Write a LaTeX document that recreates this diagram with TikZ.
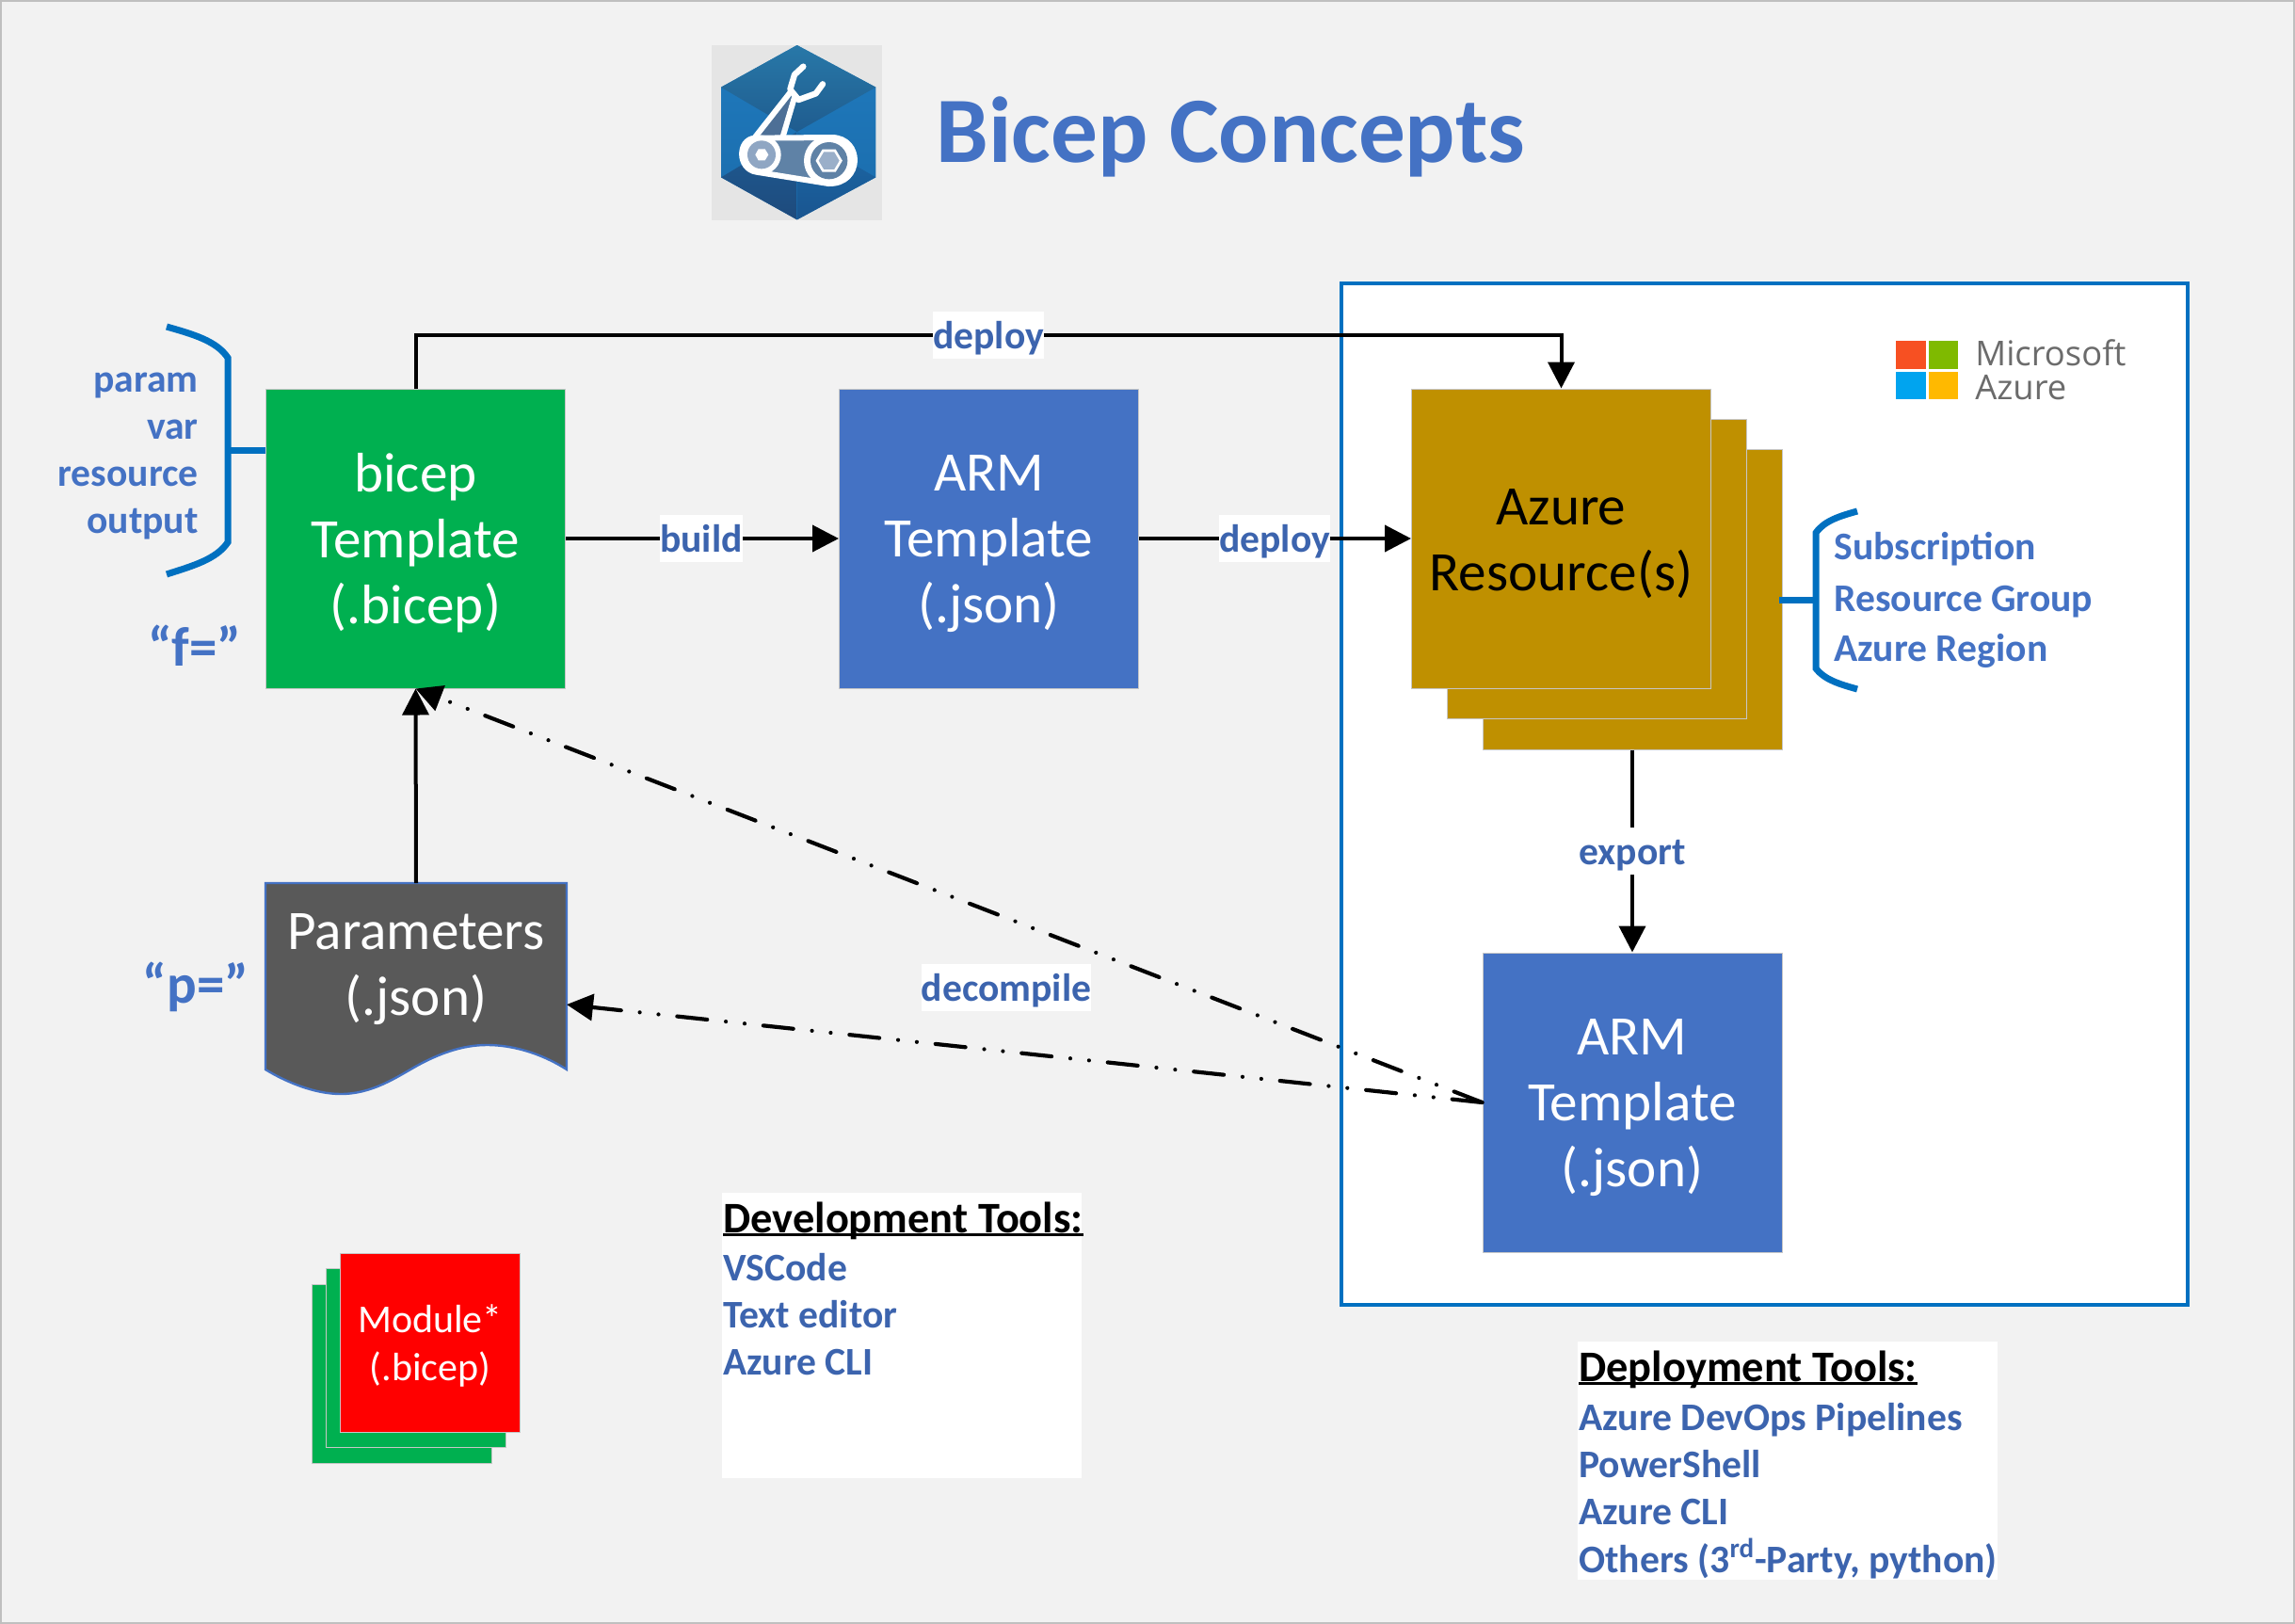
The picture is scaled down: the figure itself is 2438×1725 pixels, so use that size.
\documentclass[tikz,border=0pt]{standalone}
\usepackage{fontspec}
\setmainfont{Carlito}
\newfontfamily\msfont{Open Sans}
\usetikzlibrary{arrows.meta,calc}
\definecolor{pagebg}{HTML}{F2F2F2}
\definecolor{txtblue}{HTML}{4472C4}
\definecolor{labblue}{HTML}{3C64AE}
\definecolor{brace}{HTML}{0070C0}
\definecolor{bgreen}{HTML}{00B050}
\definecolor{agold}{HTML}{BF9000}
\definecolor{docgray}{HTML}{595959}
\definecolor{hexa}{HTML}{1F7ABD}
\definecolor{hexb}{HTML}{1B6CAC}
\definecolor{topa}{HTML}{2878A8}
\definecolor{topb}{HTML}{1F5C8F}
\definecolor{lla}{HTML}{1E5D95}
\definecolor{llb}{HTML}{1E4A7C}
\definecolor{lra}{HTML}{1B6AA8}
\definecolor{lrb}{HTML}{1A5590}
\definecolor{iconmid}{HTML}{5F82A6}
\definecolor{iconlt}{HTML}{8FA6C3}
\definecolor{iconarm}{HTML}{4D6F96}
\newcommand{\liftline}{\rule{0pt}{25pt}}
\newcommand{\toolul}[1]{\setbox0\hbox{#1}\rlap{\rule[-2.1pt]{\wd0}{1.4pt}}\box0}
\tikzset{
  px/.style={x=.5pt,y=-.5pt},
  tile/.style={draw=black!22,line width=.5pt,inner sep=0pt,align=center,text=white,font=\fontsize{29.6}{35}\selectfont},
  modtile/.style={draw=black!22,line width=.5pt,inner sep=0pt,minimum width=95.5pt,minimum height=95pt},
  conn/.style={draw=black,line width=2pt,-{Triangle[length=14pt,width=14pt]}},
  dashdot/.style={draw=black,line width=2.1pt,line cap=round,dash pattern=on 16pt off 10pt on 0pt off 10pt on 0pt off 10pt,-{Triangle[length=14pt,width=14pt]}},
  bracket/.style={draw=brace,line width=3.5pt},
  lab/.style={fill=white,inner xsep=0pt,inner ysep=0pt,text height=19.5pt,text depth=5.5pt,text=labblue,font=\fontsize{20.8}{24}\selectfont\bfseries},
  list/.style={text=txtblue,inner sep=0pt,font=\fontsize{20.8}{24}\selectfont\bfseries},
  toollist/.style={text=labblue,inner sep=0pt,anchor=base west,font=\fontsize{20.8}{24}\selectfont\bfseries},
  toolhead/.style={text=black,inner sep=0pt,anchor=base west,font=\fontsize{23.2}{26}\selectfont\bfseries},
}
\begin{document}
\begin{tikzpicture}[px]
\useasboundingbox (0,0) rectangle (2438,1725);
\fill[pagebg] (0,0) rectangle (2438,1725);
\draw[black!25,line width=1pt] (1,1) rectangle (2437,1724);
% logo
\fill[black!10] (756,48) rectangle (937,234);
\begin{scope}[shift={(720,20)},x=.16667pt,y=-.16667pt]
  \shade[top color=hexa,bottom color=hexb] (380,84)--(631,218)--(631,505)--(380,640)--(138,505)--(138,218)--cycle;
  \shade[top color=topa,bottom color=topb] (380,84)--(631,218)--(380,360)--(138,218)--cycle;
  \shade[top color=lla,bottom color=llb] (138,505)--(380,360)--(380,640)--cycle;
  \shade[top color=lra,bottom color=lrb] (631,505)--(380,360)--(380,640)--cycle;
  \fill[iconarm] (250,385)--(362,245)--(330,385)--cycle;
  \draw[white,line width=3pt,line cap=round] (240,385)--(358,235) (335,375)--(372,250);
  \draw[white,line width=3.2pt,line cap=round,line join=round] (400,152)--(372,178)--(358,225)--(385,258)--(440,238)--(462,208);
  \fill[iconmid] (290,378)--(500,378)--(500,525)--(270,490)--cycle;
  \draw[white,line width=3pt,line join=round] (245,380)--(490,378) .. controls (590,378) and (590,528) .. (480,525) -- (250,488) .. controls (190,478) and (190,385) .. (245,380) -- cycle;
  \fill[white] (267,433) circle[radius=62];
  \fill[iconlt] (267,433) circle[radius=45];
  \fill[white] (482,452) circle[radius=80];
  \fill[iconmid] (482,452) circle[radius=59];
  \fill[white] (247,433)--(257,415)--(278,415)--(289,433)--(278,451)--(257,451)--cycle;
  \filldraw[fill=iconlt!90!white,draw=white,line width=1.3pt] (444,452)--(463,420)--(501,420)--(520,452)--(501,484)--(463,484)--cycle;
\end{scope}
\node[anchor=base west,inner sep=0pt,text=txtblue,font=\fontsize{49.7}{56}\selectfont\bfseries] (title) at (994,172) {Bicep Concepts};
% azure frame
\filldraw[fill=white,draw=brace,line width=2pt] (1425,301) rectangle (2324,1386);
% azure logo
\fill[fill={rgb,255:red,247;green,80;blue,34}] (2014,362) rectangle (2046,392);
\fill[fill={rgb,255:red,127;green,186;blue,0}] (2049,362) rectangle (2080,392);
\fill[fill={rgb,255:red,0;green,164;blue,239}] (2014,395) rectangle (2046,424);
\fill[fill={rgb,255:red,255;green,185;blue,0}] (2049,395) rectangle (2080,424);
\node[anchor=west,inner sep=0pt,text=black!58,font=\msfont\fontsize{18.2}{20}\selectfont] (ms) at (2098,375) {Microsoft};
\node[anchor=west,inner sep=0pt,text=black!58,font=\msfont\fontsize{18.2}{20}\selectfont] (az) at (2098,412) {Azure};
% tiles
\node[tile,fill=bgreen,minimum width=159pt,minimum height=159pt] (bicep) at (441.5,572) {\liftline bicep\\Template\\(.bicep)};
\node[tile,fill=txtblue,minimum width=159pt,minimum height=159pt] (arm) at (1050.5,572) {\liftline ARM\\Template\\(.json)};
\node[tile,fill=agold,minimum width=159pt,minimum height=159.5pt] (res3) at (1734,636.5) {};
\node[tile,fill=agold,minimum width=159pt,minimum height=159pt] (res2) at (1696,604) {};
\node[tile,fill=agold,minimum width=159pt,minimum height=159pt,text=black] (res1) at (1658.5,572) {\liftline Azure\\Resource(s)};
\node[tile,fill=txtblue,minimum width=159pt,minimum height=159pt] (arm2) at (1734,1171) {\liftline ARM\\Template\\(.json)};
% parameters document
\filldraw[fill=docgray,draw=txtblue,line width=1.2pt] (282,938)--(602,938)--(602,1136) .. controls (580,1122) and (550,1110) .. (517,1110) .. controls (490,1110) and (465,1120) .. (443,1132) .. controls (420,1145) and (395,1162) .. (362,1162) .. controls (335,1162) and (305,1150) .. (282,1136) -- cycle;
\node[inner sep=0pt,align=center,text=white,font=\fontsize{29.6}{35}\selectfont,minimum width=160pt,minimum height=86pt] (params) at (442,1024) {\liftline Parameters\\(.json)};
\coordinate (paramsin) at (602,1067);
\coordinate (paramstop) at (442,938);
% modules
\node[modtile,fill=bgreen] (m3) at (426.5,1459.5) {};
\node[modtile,fill=bgreen] (m2) at (441.5,1442.5) {};
\node[modtile,fill=red,text=white,align=center,font=\fontsize{21}{25.5}\selectfont] (m1) at (457,1426) {\rule{0pt}{18pt}Module*\\(.bicep)};
% tool boxes
\fill[white] (767,1267) rectangle (1149,1570);
\fill[white] (1676,1425) rectangle (2122,1678);
\node[toolhead] (devh) at (768,1309) {\toolul{Development Tools:}};
\node[toollist] (dev1) at (768,1360) {VSCode};
\node[toollist] (dev2) at (768,1410) {Text editor};
\node[toollist] (dev3) at (768,1460) {Azure CLI};
\node[toolhead] (depl) at (1677,1467) {\toolul{Deployment Tools:}};
\node[toollist] (dep1) at (1677,1519) {Azure DevOps Pipelines};
\node[toollist] (dep2) at (1677,1569) {PowerShell};
\node[toollist] (dep3) at (1677,1619) {Azure CLI};
\node[toollist] (dep4) at (1677,1670) {Others (3\textsuperscript{rd}-Party, python)};
% left bracket
\coordinate (lb) at (242,478);
\draw[bracket] (177,347) .. controls (205,355) and (230,362) .. (242,380) -- (242,576) .. controls (230,594) and (205,601) .. (177,610);
\draw[bracket] (lb) -- (bicep.west |- lb);
\node[list,anchor=base east] (p1) at (211,416) {param};
\node[list,anchor=base east] (p2) at (211,466) {var};
\node[list,anchor=base east] (p3) at (211,516) {resource};
\node[list,anchor=base east] (p4) at (211,566) {output};
\node[text=txtblue,inner sep=0pt,font=\fontsize{29.5}{32}\selectfont\bfseries] (f) at (207,686) {“f=”};
\node[text=txtblue,inner sep=0pt,font=\fontsize{29.5}{32}\selectfont\bfseries] (p) at (208,1048) {“p=”};
% right bracket
\coordinate (rb) at (1929,637);
\draw[bracket] (1973,543) .. controls (1955,548) and (1938,553) .. (1929,566) -- (1929,710) .. controls (1938,722) and (1955,727) .. (1973,732);
\draw[bracket] (rb) -- ([xshift=-2pt]res3.east |- rb);
\node[list,anchor=base west] (s1) at (1948,594) {Subscription};
\node[list,anchor=base west] (s2) at (1948,649) {Resource Group};
\node[list,anchor=base west] (s3) at (1948,702) {Azure Region};
% connectors
\coordinate (topturnA) at (441.5,356);
\coordinate (topturnB) at (1658.5,356);
\draw[conn] (bicep.north) -- (topturnA) -- (topturnB) -- (res1.north);
\node[lab] (ldep1) at (1050,356) {deploy};
\draw[conn] (bicep.east) -- (arm.west);
\node[lab] (lbuild) at (745,572) {build};
\draw[conn] (arm.east) -- (res1.west);
\node[lab] (ldep2) at (1354,572) {deploy};
\draw[conn] (res3.south) -- (arm2.north);
\node[lab] (lexp) at (1734,904) {export};
\draw[conn] (paramstop) -- (bicep.south);
\draw[dashdot] (arm2.west) -- (paramsin);
\draw[dashdot] (arm2.west) -- (bicep.south);
\node[lab] (ldec) at (1069,1049) {decompile};
\end{tikzpicture}
\end{document}
